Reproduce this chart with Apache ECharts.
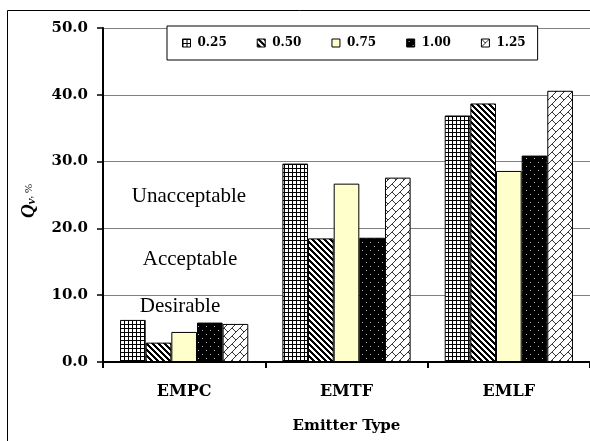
<!DOCTYPE html>
<html>
<head>
<meta charset="utf-8">
<script src="https://cdn.jsdelivr.net/npm/echarts@6/dist/echarts.min.js"></script>
<style>
  html, body { margin: 0; padding: 0; background: #fff; }
  #chart { width: 590px; height: 441px; }
</style>
</head>
<body>
<div id="chart"></div>
<script>
// Emitter types along the x axis
const categories = ['EMPC', 'EMTF', 'EMLF'];
// Series names (legend entries)
const seriesNames = ['0.25', '0.50', '0.75', '1.00', '1.25'];
// Qv (%) per emitter type for each series
const q025 = [6.3, 29.7, 36.9];
const q050 = [2.9, 18.5, 38.7];
const q075 = [4.5, 26.7, 28.6];
const q100 = [5.9, 18.6, 30.9];
const q125 = [5.7, 27.6, 40.6];
// Y tick range
const yMin = 0, yMax = 50, yStep = 10;

// Small tiled fills for the bars
function tile(w, h, draw) {
  const c = document.createElement('canvas');
  c.width = w; c.height = h;
  const ctx = c.getContext('2d');
  draw(ctx, w, h);
  return { image: c, repeat: 'repeat' };
}
const fillGrid = tile(4, 4, (ctx, w, h) => {
  ctx.fillStyle = '#fff'; ctx.fillRect(0, 0, w, h);
  ctx.fillStyle = '#000';
  ctx.fillRect(0, 0, w, 1);
  ctx.fillRect(0, 0, 1, h);
});
const fillStripe = tile(6, 6, (ctx, w, h) => {
  ctx.fillStyle = '#fff'; ctx.fillRect(0, 0, w, h);
  ctx.fillStyle = '#000';
  for (let y = 0; y < h; y++)
    for (let x = 0; x < w; x++)
      if ((((x - y) % 6) + 6) % 6 < 3) ctx.fillRect(x, y, 1, 1);
});
const fillDots = tile(8, 8, (ctx, w, h) => {
  ctx.fillStyle = '#000'; ctx.fillRect(0, 0, w, h);
  ctx.fillStyle = '#bbb';
  ctx.fillRect(2, 2, 1, 1);
  ctx.fillRect(6, 6, 1, 1);
});
const fillBrick = tile(8, 8, (ctx, w, h) => {
  ctx.fillStyle = '#fff'; ctx.fillRect(0, 0, w, h);
  ctx.strokeStyle = '#333'; ctx.lineWidth = 1;
  ctx.beginPath();
  ctx.moveTo(0, 8); ctx.lineTo(8, 0);
  ctx.moveTo(0, 0); ctx.lineTo(4, 4);
  ctx.stroke();
});
const fills = [fillGrid, fillStripe, '#FFFFCC', fillDots, fillBrick];
const values = [q025, q050, q075, q100, q125];

const serif = 'Liberation Serif';
const boldFace = 'DejaVu Serif';

const chart = echarts.init(document.getElementById('chart'), null, { renderer: 'canvas' });
chart.setOption({
  animation: false,
  backgroundColor: '#fff',
  grid: { left: 103, top: 28, width: 489, height: 334 },
  legend: {
    data: seriesNames,
    icon: 'rect',
    left: 167, top: 26,
    padding: [11, 12, 11, 15],
    itemWidth: 8, itemHeight: 8,
    itemGap: 30,
    backgroundColor: '#fff',
    borderColor: '#000', borderWidth: 1,
    itemStyle: { borderColor: '#000', borderWidth: 1 },
    textStyle: { fontFamily: boldFace, fontWeight: 'bold', fontSize: 12, color: '#000', padding: [0, 0, 0, 2] }
  },
  xAxis: {
    type: 'category',
    data: categories,
    name: 'Emitter Type',
    nameLocation: 'middle',
    nameGap: 57,
    nameTextStyle: { fontFamily: boldFace, fontWeight: 'bold', fontSize: 15, color: '#000' },
    axisLine: { lineStyle: { color: '#000', width: 2 } },
    axisTick: { show: true, length: 6, lineStyle: { color: '#000', width: 2 } },
    axisLabel: { margin: 22, fontFamily: boldFace, fontWeight: 'bold', fontSize: 16, color: '#000' }
  },
  yAxis: {
    type: 'value',
    min: yMin, max: yMax, interval: yStep,
    axisLine: { show: true, lineStyle: { color: '#000', width: 2 } },
    axisTick: { show: true, length: 6, lineStyle: { color: '#000', width: 1.5 } },
    axisLabel: {
      margin: 15, fontFamily: boldFace, fontWeight: 'bold', fontSize: 15, color: '#000',
      formatter: v => v.toFixed(1)
    },
    splitLine: { lineStyle: { color: '#808080', width: 1 } }
  },
  series: seriesNames.map((name, i) => ({
    name,
    type: 'bar',
    data: values[i],
    barGap: '0%',
    barCategoryGap: '21%',
    itemStyle: { color: fills[i], borderColor: '#000', borderWidth: 1 },
    emphasis: { disabled: true }
  })),
  graphic: [
    {
      type: 'rect', z: -1, silent: true,
      shape: { x: 7.5, y: 10.5, width: 620, height: 520 },
      style: { fill: null, stroke: '#000', lineWidth: 1 }
    },
    {
      type: 'text', x: 29, y: 201, rotation: Math.PI / 2,
      style: {
        text: '{q|Q}{v|v}{p|, %}',
        align: 'center', verticalAlign: 'middle',
        rich: {
          q: { fontFamily: serif, fontStyle: 'italic', fontWeight: 'bold', fontSize: 19, fill: '#000' },
          v: { fontFamily: serif, fontStyle: 'italic', fontWeight: 'bold', fontSize: 13, fill: '#000', verticalAlign: 'bottom' },
          p: { fontFamily: serif, fontSize: 11, fill: '#000' }
        }
      }
    },
    {
      type: 'text', x: 189, y: 196,
      style: { text: 'Unacceptable', fontFamily: serif, fontSize: 21, fill: '#000', align: 'center', verticalAlign: 'middle' }
    },
    {
      type: 'text', x: 190, y: 259,
      style: { text: 'Acceptable', fontFamily: serif, fontSize: 21, fill: '#000', align: 'center', verticalAlign: 'middle' }
    },
    {
      type: 'text', x: 180, y: 306,
      style: { text: 'Desirable', fontFamily: serif, fontSize: 21, fill: '#000', align: 'center', verticalAlign: 'middle' }
    }
  ]
});
</script>
</body>
</html>
